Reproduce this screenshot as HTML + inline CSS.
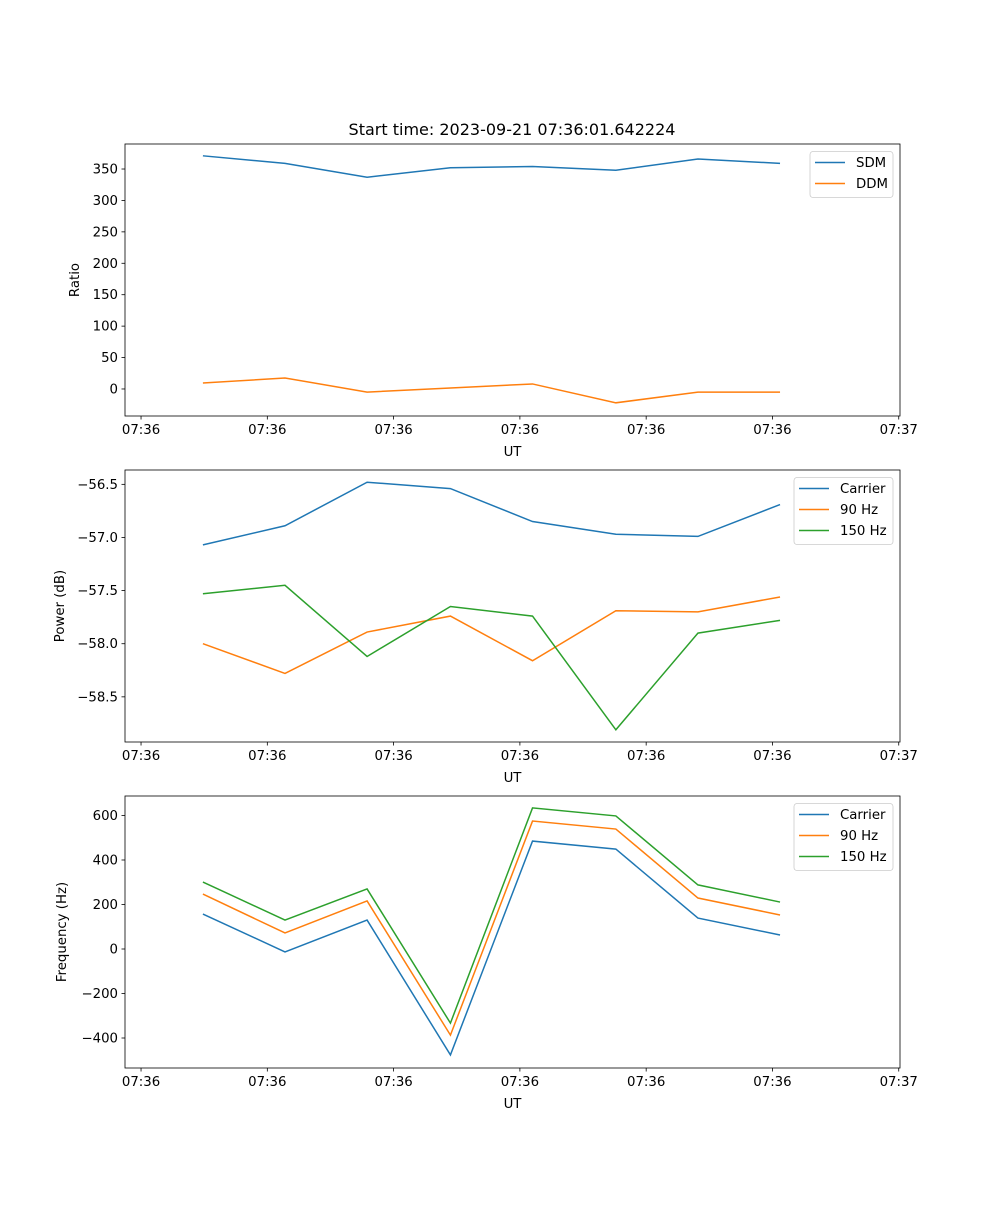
<!DOCTYPE html>
<html><head><meta charset="utf-8"><style>
body{margin:0;background:#fff}
svg text{font-family:"DejaVu Sans","Liberation Sans",sans-serif;font-size:13.3px;fill:#000}
</style></head><body>
<svg id="fig" width="1000" height="1200" xmlns="http://www.w3.org/2000/svg">
<rect width="1000" height="1200" fill="#fff"/>
<text x="512" y="135" text-anchor="middle" style="font-size:16px">Start time: 2023-09-21 07:36:01.642224</text>
</svg>
<script>
// time in seconds after 07:36:00
const times = [4.9, 11.4, 17.9, 24.5, 31.0, 37.6, 44.1, 50.6];
const xTickVals = [0, 10, 20, 30, 40, 50, 60];
const xTickLabels = ["07:36","07:36","07:36","07:36","07:36","07:36","07:37"];
const sdm = [371, 359, 337, 352, 354, 348, 366, 359];
const ddm = [9.5, 17.5, -5, 1.6, 8, -22, -5, -5];
const powCarrier = [-57.07, -56.89, -56.48, -56.54, -56.85, -56.97, -56.99, -56.69];
const pow90 = [-58.0, -58.28, -57.89, -57.74, -58.16, -57.69, -57.70, -57.56];
const pow150 = [-57.53, -57.45, -58.12, -57.65, -57.74, -58.81, -57.90, -57.78];
const freqCarrier = [157, -13, 130, -476, 485, 449, 139, 63];
const freq90 = [247, 72, 216, -387, 575, 539, 229, 153];
const freq150 = [301, 130, 270, -333, 634, 598, 288, 211];
const ratioTicks = [0, 50, 100, 150, 200, 250, 300, 350];
const powTicks = [-56.5, -57.0, -57.5, -58.0, -58.5];
const freqTicks = [-400, -200, 0, 200, 400, 600];

const NS = "http://www.w3.org/2000/svg";
const svg = document.getElementById('fig');
const C = ['#1f77b4', '#ff7f0e', '#2ca02c'];
function mk(tag, attrs, parent) {
  const e = document.createElementNS(NS, tag);
  for (const k in attrs) e.setAttribute(k, attrs[k]);
  (parent || svg).appendChild(e);
  return e;
}
const X0 = 125, X1 = 900, xmin = -1.27, xmax = 60.1;
function xs(v) { return X0 + (v - xmin) / (xmax - xmin) * (X1 - X0); }

function panel(name, top, bottom, ymin, ymax, yTicks, fmt, ylabel, ylabelX, series, names, legend) {
  const ys = v => bottom - (v - ymin) / (ymax - ymin) * (bottom - top);
  const g = mk('g', {});
  
  
  yTicks.forEach(t => {
    const y = ys(t);
    mk('line', {x1: X0 - 3.5, x2: X0, y1: y, y2: y, stroke: '#000', 'stroke-width': 0.8}, g);
    const tx = mk('text', {x: X0 - 7, y: y + 4.5, 'text-anchor': 'end'}, g);
    tx.textContent = fmt(t);
    
    
  });
  xTickVals.forEach((t, i) => {
    const x = xs(t);
    mk('line', {x1: x, x2: x, y1: bottom, y2: bottom + 3.5, stroke: '#000', 'stroke-width': 0.8}, g);
    const tx = mk('text', {x: x, y: bottom + 18, 'text-anchor': 'middle'}, g);
    tx.textContent = xTickLabels[i];
    
    
  });
  series.forEach((s, i) => {
    const p = mk('polyline', {points: s.map((v, j) => xs(times[j]) + ',' + ys(v)).join(' '), fill: 'none', stroke: C[i], 'stroke-width': 1.5}, g);
    
    
  });
  mk('rect', {x: X0, y: top, width: X1 - X0, height: bottom - top, fill: 'none', stroke: '#000', 'stroke-width': 0.8}, g);
  const xl = mk('text', {x: (X0 + X1) / 2, y: bottom + 40, 'text-anchor': 'middle'}, g);
  xl.textContent = 'UT';
  
  
  const cy = (top + bottom) / 2;
  const yl = mk('text', {x: ylabelX, y: cy, 'text-anchor': 'middle', transform: 'rotate(-90 ' + ylabelX + ' ' + cy + ')'}, g);
  yl.textContent = ylabel;
  
  
  const lg = mk('g', {}, g);
  
  
  mk('rect', {x: legend.x, y: top + 7.5, width: 893 - legend.x, height: names.length * 21 + 4, rx: 3, fill: '#fff', 'fill-opacity': 0.8, stroke: '#ccc', 'stroke-width': 0.8}, lg);
  names.forEach((n, i) => {
    const y = top + 18.5 + i * 21;
    mk('line', {x1: legend.x + 5, x2: legend.x + 35, y1: y, y2: y, stroke: C[i], 'stroke-width': 1.5}, lg);
    const t = mk('text', {x: legend.x + 46, y: y + 4.5}, lg);
    t.textContent = n;
    
    
  });
}
panel('ratio-panel', 144, 416, -43, 389.8, ratioTicks, v => v < 0 ? '\u2212' + (-v) : '' + v, 'Ratio', 79, [sdm, ddm], ['SDM', 'DDM'], {x: 810});
panel('power-panel', 470, 742, -58.925, -56.365, powTicks, v => '\u2212' + (-v).toFixed(1), 'Power (dB)', 64, [powCarrier, pow90, pow150], ['Carrier', '90 Hz', '150 Hz'], {x: 794});
panel('frequency-panel', 796, 1068, -534.8, 687.6, freqTicks, v => v < 0 ? '\u2212' + (-v) : '' + v, 'Frequency (Hz)', 66, [freqCarrier, freq90, freq150], ['Carrier', '90 Hz', '150 Hz'], {x: 794});
</script>
</body></html>
